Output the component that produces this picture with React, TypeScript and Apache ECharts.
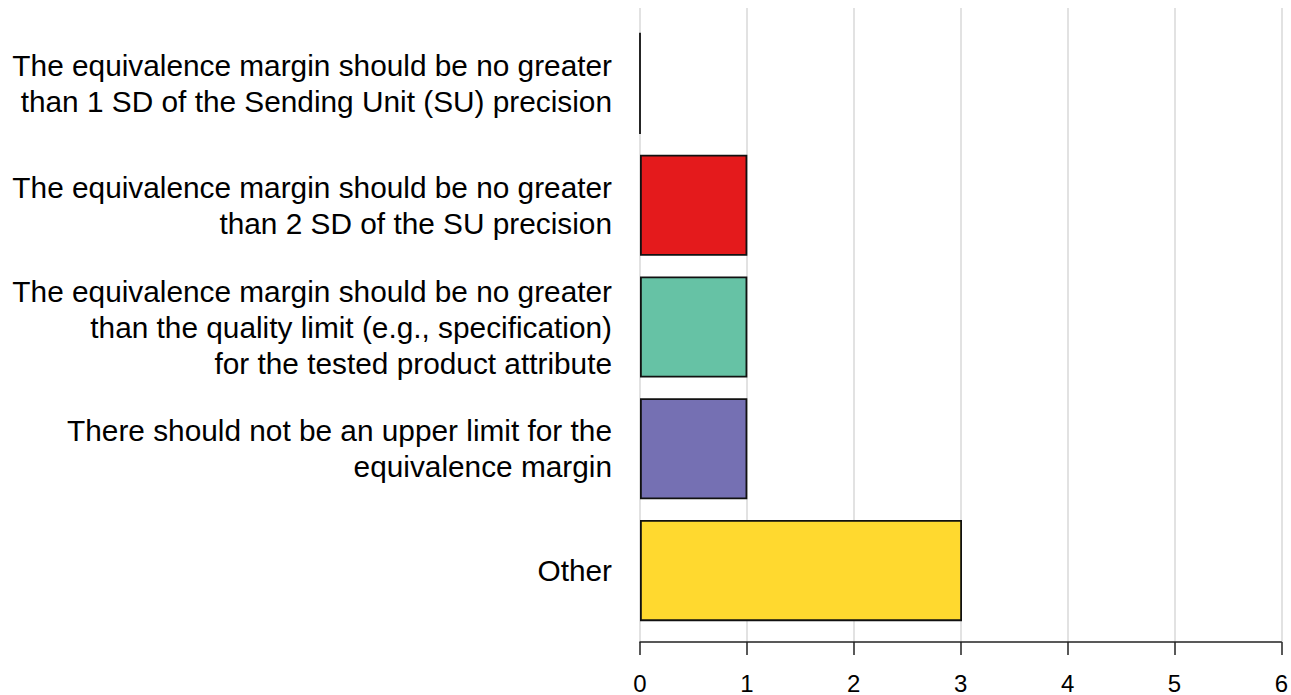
import React, { useEffect, useRef } from "react";
import * as echarts from "echarts";

const categories = [
  "The equivalence margin should be no greater\nthan 1 SD of the Sending Unit (SU) precision",
  "The equivalence margin should be no greater\nthan 2 SD of the SU precision",
  "The equivalence margin should be no greater\nthan the quality limit (e.g., specification)\nfor the tested product attribute",
  "There should not be an upper limit for the\nequivalence margin",
  "Other",
];
const values = [0, 1, 1, 1, 3];
const colors = ["#E41A1C", "#E41A1C", "#66C2A5", "#7570B3", "#FFD92F"];
const xTicks = [0, 1, 2, 3, 4, 5, 6];

export default function App() {
  const ref = useRef<HTMLDivElement>(null);
  useEffect(() => {
    if (!ref.current) return;
    const chart = echarts.init(ref.current, null, { renderer: "svg" });
    const font = "'Liberation Sans', Arial, sans-serif";
    chart.setOption({
      animation: false,
      backgroundColor: "#ffffff",
      grid: [
        { left: 640, right: 7, top: 8, bottom: 50 },
        { left: 640, right: 7, top: 22.5, bottom: 63.5 },
      ],
      xAxis: [
        {
          gridIndex: 0,
          type: "value",
          min: xTicks[0],
          max: xTicks[xTicks.length - 1],
          interval: 1,
          axisLine: { show: true, lineStyle: { color: "#222", width: 1.5 } },
          axisTick: { show: true, length: 13, lineStyle: { color: "#222", width: 1.5 } },
          axisLabel: { color: "#000", fontSize: 24, fontFamily: font, margin: 29 },
          splitLine: { show: true, lineStyle: { color: "#d9d9d9", width: 1.5 } },
        },
        {
          gridIndex: 1,
          type: "value",
          min: xTicks[0],
          max: xTicks[xTicks.length - 1],
          interval: 1,
          show: false,
          splitLine: { show: false },
        },
      ],
      yAxis: [
        {
          gridIndex: 0,
          type: "value",
          show: false,
          splitLine: { show: false },
        },
        {
          gridIndex: 1,
          type: "category",
          inverse: true,
          data: categories,
          axisLine: { show: false },
          axisTick: { show: false },
          axisLabel: {
            color: "#000",
            fontSize: 29.8,
            fontFamily: font,
            lineHeight: 36,
            margin: 28,
            align: "right",
          },
        },
      ],
      series: [
        {
          type: "bar",
          xAxisIndex: 1,
          yAxisIndex: 1,
          barCategoryGap: "17%",
          data: values.map((v, i) => ({
            value: v,
            itemStyle: { color: colors[i] },
          })),
          itemStyle: { borderColor: "#111", borderWidth: 1.8 },
        },
      ],
    });
    return () => chart.dispose();
  }, []);
  return (
    <div
      ref={ref}
      style={{ position: "fixed", left: 0, top: 0, width: 1291, height: 695 }}
    />
  );
}
